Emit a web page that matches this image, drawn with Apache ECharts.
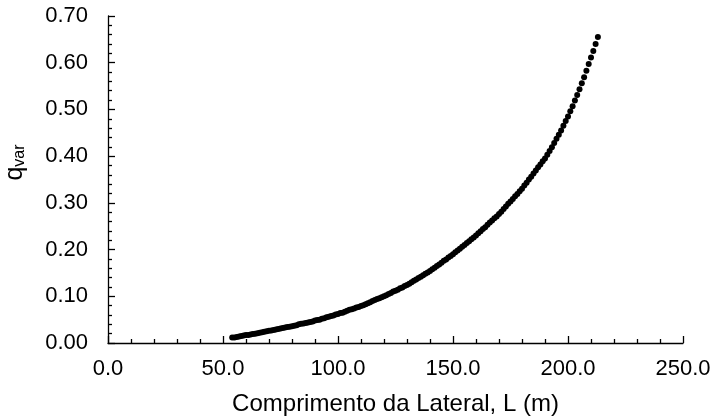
<!DOCTYPE html>
<html>
<head>
<meta charset="utf-8">
<script src="https://cdn.jsdelivr.net/npm/echarts@6/dist/echarts.min.js"></script>
<style>
  html, body { margin: 0; padding: 0; background: #fff; }
  #chart { width: 713px; height: 417px; }
</style>
</head>
<body>
<div id="chart"></div>
<script>
// lateral length L (m), one point per metre
const lateralLength = [
  54, 55, 56, 57, 58, 59, 60,
  61, 62, 63, 64, 65, 66, 67, 68, 69, 70,
  71, 72, 73, 74, 75, 76, 77, 78, 79, 80,
  81, 82, 83, 84, 85, 86, 87, 88, 89, 90,
  91, 92, 93, 94, 95, 96, 97, 98, 99, 100,
  101, 102, 103, 104, 105, 106, 107, 108, 109, 110,
  111, 112, 113, 114, 115, 116, 117, 118, 119, 120,
  121, 122, 123, 124, 125, 126, 127, 128, 129, 130,
  131, 132, 133, 134, 135, 136, 137, 138, 139, 140,
  141, 142, 143, 144, 145, 146, 147, 148, 149, 150,
  151, 152, 153, 154, 155, 156, 157, 158, 159, 160,
  161, 162, 163, 164, 165, 166, 167, 168, 169, 170,
  171, 172, 173, 174, 175, 176, 177, 178, 179, 180,
  181, 182, 183, 184, 185, 186, 187, 188, 189, 190,
  191, 192, 193, 194, 195, 196, 197, 198, 199, 200,
  201, 202, 203, 204, 205, 206, 207, 208, 209, 210, 211, 212, 213
];

// q_var
const qVar = [
  0.012, 0.012, 0.013, 0.014, 0.015, 0.016, 0.017,
  0.017, 0.018, 0.019, 0.020, 0.021, 0.022, 0.023, 0.024, 0.025, 0.026,
  0.027, 0.028, 0.029, 0.030, 0.031, 0.032, 0.033, 0.034, 0.035, 0.036,
  0.037, 0.038, 0.040, 0.041, 0.042, 0.043, 0.044, 0.045, 0.046, 0.048,
  0.049, 0.050, 0.052, 0.053, 0.055, 0.056, 0.058, 0.059, 0.061, 0.062,
  0.064, 0.065, 0.067, 0.069, 0.071, 0.072, 0.074, 0.076, 0.077, 0.079,
  0.081, 0.083, 0.085, 0.087, 0.090, 0.092, 0.094, 0.096, 0.098, 0.100,
  0.102, 0.105, 0.107, 0.110, 0.112, 0.114, 0.117, 0.119, 0.122, 0.124,
  0.127, 0.130, 0.133, 0.136, 0.139, 0.142, 0.145, 0.148, 0.151, 0.154,
  0.158, 0.161, 0.165, 0.168, 0.172, 0.176, 0.179, 0.183, 0.186, 0.190,
  0.194, 0.198, 0.202, 0.206, 0.210, 0.214, 0.218, 0.222, 0.226, 0.230,
  0.235, 0.239, 0.244, 0.248, 0.253, 0.258, 0.262, 0.267, 0.271, 0.276,
  0.281, 0.287, 0.292, 0.298, 0.303, 0.308, 0.314, 0.319, 0.325, 0.330,
  0.337, 0.343, 0.350, 0.356, 0.363, 0.369, 0.376, 0.382, 0.389, 0.395,
  0.403, 0.411, 0.419, 0.428, 0.437, 0.446, 0.455, 0.465, 0.475, 0.485,
  0.496, 0.507, 0.519, 0.531, 0.543, 0.556, 0.569, 0.583, 0.597, 0.611, 0.625, 0.640, 0.655
];

const font = 'Helvetica, "Liberation Sans", Arial, sans-serif';
const points = lateralLength.map((l, i) => [l, qVar[i]]);

const chart = echarts.init(document.getElementById('chart'), null, { renderer: 'canvas' });

const axisCommon = {
  axisLine: { lineStyle: { color: '#000', width: 1.3 } },
  axisTick: { inside: true, length: 7, lineStyle: { color: '#000', width: 1.3 } },
  minorTick: { show: true, splitNumber: 5, length: 4, lineStyle: { color: '#000', width: 1.3 } },
  splitLine: { show: false },
  minorSplitLine: { show: false }
};

chart.setOption({
  animation: false,
  backgroundColor: '#fff',
  grid: { left: 108, right: 30, top: 16, bottom: 74, outerBoundsMode: 'none' },
  xAxis: {
    type: 'value',
    min: 0,
    max: 250,
    interval: 50,
    ...axisCommon,
    axisLabel: {
      color: '#000',
      fontFamily: font,
      fontSize: 22,
      margin: 15,
      formatter: v => v.toFixed(1)
    },
    name: 'Comprimento da Lateral, L (m)',
    nameLocation: 'middle',
    nameGap: 49,
    nameTextStyle: { color: '#000', fontFamily: font, fontSize: 24 }
  },
  yAxis: {
    type: 'value',
    min: 0,
    max: 0.7,
    interval: 0.1,
    ...axisCommon,
    axisLabel: {
      color: '#000',
      fontFamily: font,
      fontSize: 22,
      margin: 20,
      formatter: v => v.toFixed(2)
    },
    name: '{q|q}{sub|var}',
    nameLocation: 'middle',
    nameRotate: 90,
    nameGap: 80,
    nameTextStyle: {
      padding: [0, 0, 0, 34],
      rich: {
        q: { fontFamily: font, fontSize: 25, color: '#000' },
        sub: { fontFamily: font, fontSize: 16, color: '#000', padding: [10, 0, 0, 0] }
      }
    }
  },
  series: [
    {
      type: 'scatter',
      data: points,
      symbol: 'circle',
      symbolSize: 6,
      itemStyle: { color: '#000', opacity: 1 }
    }
  ]
});
</script>
</body>
</html>
